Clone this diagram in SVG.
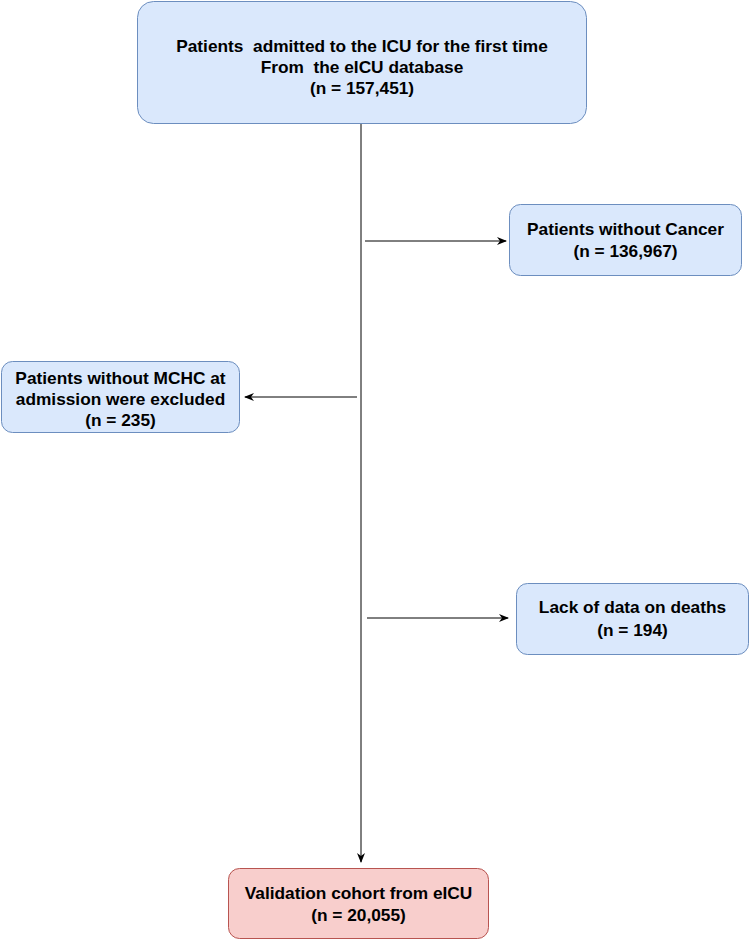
<svg xmlns="http://www.w3.org/2000/svg" width="750" height="940" viewBox="0 0 750 940">
<defs>
<style>
.blue{fill:#dae8fc;stroke:#6c8ebf;stroke-width:1}
.red{fill:#f8cecc;stroke:#b85450;stroke-width:1}
text{font-family:"Liberation Sans",Arial,sans-serif;font-weight:bold;font-size:17.3px;fill:#000;text-anchor:middle;white-space:pre}
.edge{stroke:#000;stroke-width:1;fill:none}
</style>
<marker id="arr" viewBox="0 0 10 10" refX="9" refY="5" markerWidth="10" markerHeight="10" markerUnits="userSpaceOnUse" orient="auto">
<path d="M0,1 L10,5 L0,9 L3,5 Z" fill="#000"/>
</marker>
</defs>
<rect width="750" height="940" fill="#fff"/>
<g id="connectors">
<path class="edge" d="M361,123 V862" marker-end="url(#arr)"/>
<path class="edge" d="M365,241 H506" marker-end="url(#arr)"/>
<path class="edge" d="M357,397 H245" marker-end="url(#arr)"/>
<path class="edge" d="M367,618 H508" marker-end="url(#arr)"/>
</g>
<g id="n1">
<rect class="blue" x="137.5" y="1.5" width="449" height="122" rx="16"/>
<text x="362" y="52" xml:space="preserve">Patients  admitted to the ICU for the first time</text>
<text x="362" y="73" xml:space="preserve">From  the eICU database</text>
<text x="362" y="94">(n = 157,451)</text>
</g>
<g id="n2">
<rect class="blue" x="509.5" y="204.5" width="232" height="71" rx="11"/>
<text x="625.5" y="235">Patients without Cancer</text>
<text x="625.5" y="257">(n = 136,967)</text>
</g>
<g id="n3">
<rect class="blue" x="1.5" y="361.5" width="238" height="71" rx="11"/>
<text x="120.5" y="384">Patients without MCHC at</text>
<text x="120.5" y="405">admission were excluded</text>
<text x="120.5" y="426">(n = 235)</text>
</g>
<g id="n4">
<rect class="blue" x="516.5" y="583.5" width="232" height="71" rx="11"/>
<text x="632.5" y="613">Lack of data on deaths</text>
<text x="632.5" y="636">(n = 194)</text>
</g>
<g id="n5">
<rect class="red" x="228.5" y="868.5" width="260" height="70" rx="11"/>
<text x="358.5" y="899">Validation cohort from eICU</text>
<text x="358.5" y="921">(n = 20,055)</text>
</g>
</svg>
